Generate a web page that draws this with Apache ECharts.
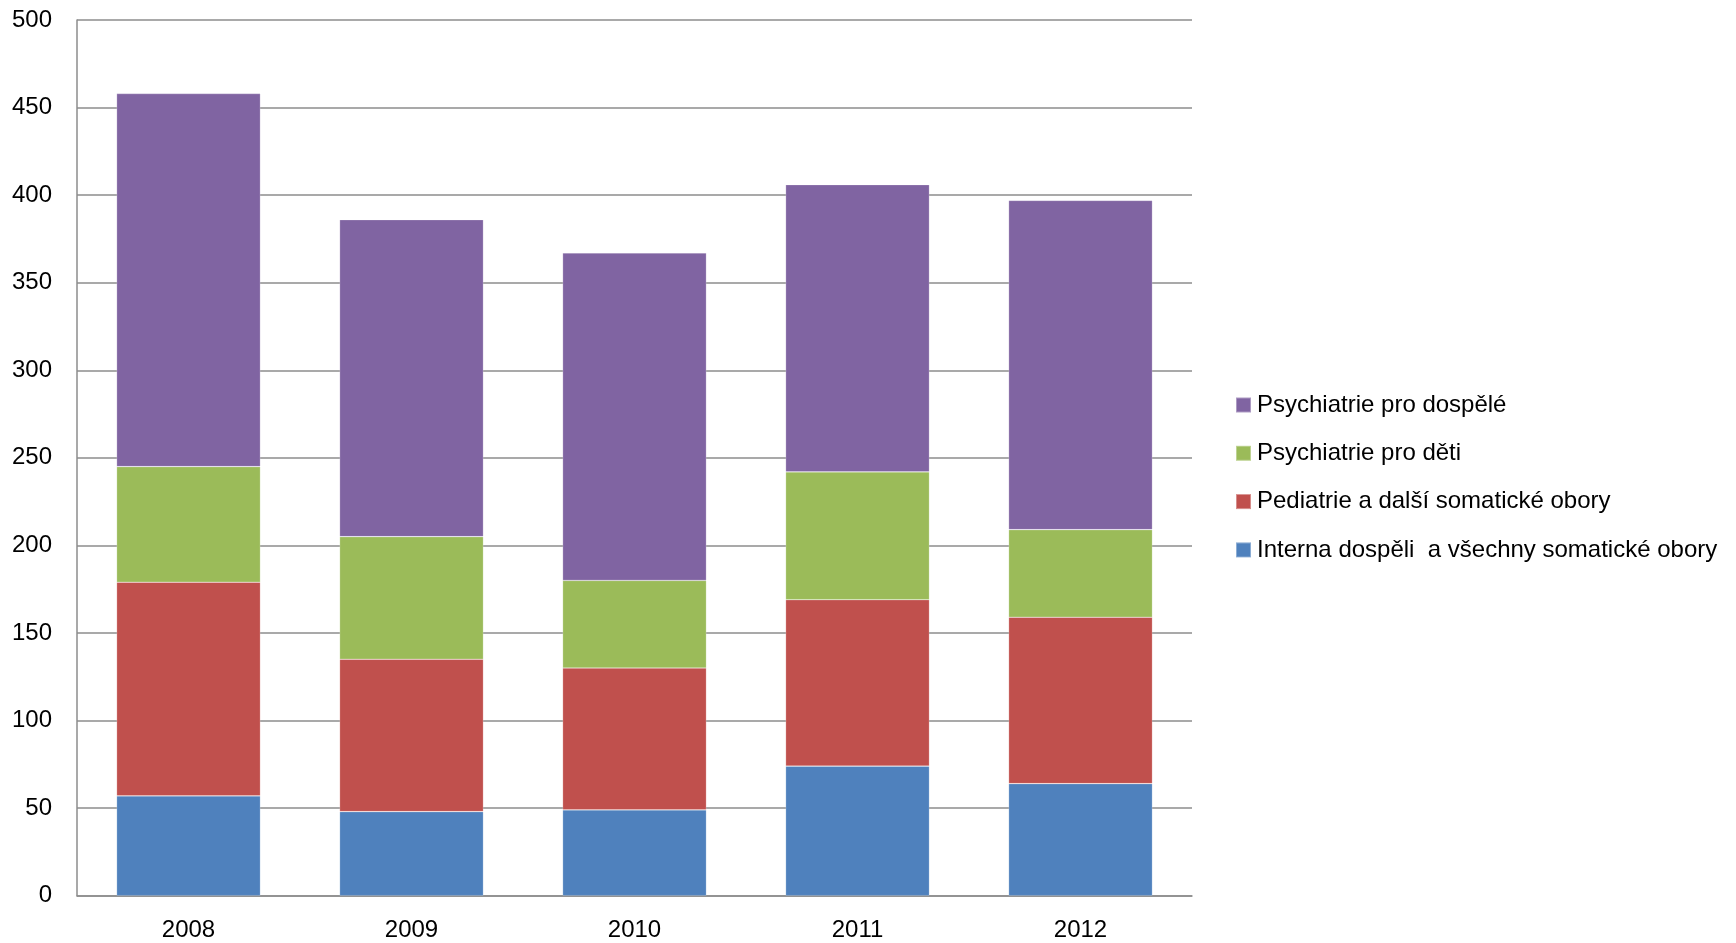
<!DOCTYPE html>
<html>
<head>
<meta charset="utf-8">
<title>Stacked bars 2008–2012</title>
<script src="https://cdn.jsdelivr.net/npm/echarts@6/dist/echarts.min.js"></script>
<style>
  html, body { margin: 0; padding: 0; background: #ffffff; }
  #chart { width: 1736px; height: 943px; }
</style>
</head>
<body>
<div id="chart"></div>
<script>
// Years on the category axis
const years = ['2008', '2009', '2010', '2011', '2012'];

// Series names (bottom to top of each stack)
const seriesNames = [
  'Interna dospěli  a všechny somatické obory',
  'Pediatrie a další somatické obory',
  'Psychiatrie pro děti',
  'Psychiatrie pro dospělé'
];

// Values per year for each series
const internaValues = [57, 48, 49, 74, 64];
const pediatrieValues = [122, 87, 81, 95, 95];
const psychDetiValues = [66, 70, 50, 73, 50];
const psychDospeleValues = [213, 181, 187, 164, 188];

// Value axis ticks
const yTicks = { min: 0, max: 500, interval: 50 };

const seriesValues = [internaValues, pediatrieValues, psychDetiValues, psychDospeleValues];
const colors = ['#4F81BD', '#C0504D', '#9BBB59', '#8064A2'];

const font = '"Liberation Sans", Arial, sans-serif';
const gridColor = '#8c8c8c';

const chart = echarts.init(document.getElementById('chart'), null, { renderer: 'canvas' });

chart.setOption({
  animation: false,
  backgroundColor: '#ffffff',
  grid: { left: 77, right: 544, top: 20, bottom: 47.3, containLabel: false },
  legend: {
    orient: 'vertical',
    left: 1235,
    top: 392,
    padding: 0,
    itemWidth: 15,
    itemHeight: 15,
    itemGap: 22.3,
    icon: 'rect',
    data: seriesNames.slice().reverse(),
    textStyle: { fontFamily: font, fontSize: 24, color: '#000000', lineHeight: 26, padding: [0, 0, 0, 1] },
    selectedMode: false
  },
  xAxis: {
    type: 'category',
    data: years,
    axisLine: { lineStyle: { color: gridColor, width: 1.5 } },
    axisTick: { show: false },
    axisLabel: { fontFamily: font, fontSize: 24, color: '#000000', margin: 23 }
  },
  yAxis: {
    type: 'value',
    min: yTicks.min,
    max: yTicks.max,
    interval: yTicks.interval,
    axisLine: { show: true, lineStyle: { color: gridColor, width: 1.5 } },
    axisTick: { show: false },
    splitLine: { lineStyle: { color: gridColor, width: 1.5 } },
    axisLabel: { fontFamily: font, fontSize: 24, color: '#000000', margin: 25 }
  },
  series: seriesNames.map((name, i) => ({
    name: name,
    type: 'bar',
    stack: 'total',
    data: seriesValues[i],
    barWidth: '64.5%',
    itemStyle: { color: colors[i], borderColor: 'rgba(255,255,255,0.35)', borderWidth: 0.6 }
  }))
});
</script>
</body>
</html>
